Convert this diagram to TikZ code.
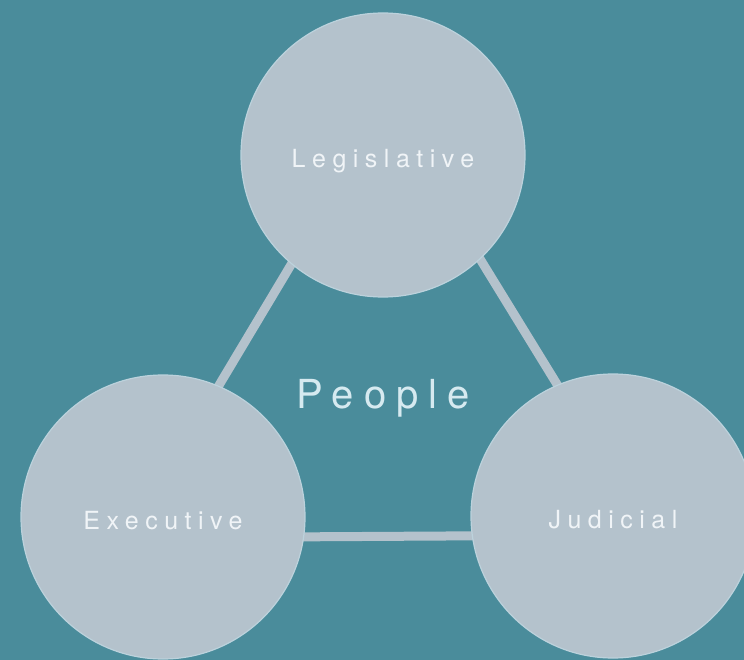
\documentclass[tikz,border=0pt]{standalone}
\usepackage{fontspec}
\setmainfont{TeX Gyre Heros}
\newfontfamily\trackfont[LetterSpace=26]{TeX Gyre Heros}
\newfontfamily\widefont[LetterSpace=25]{TeX Gyre Heros}
\definecolor{bgteal}{HTML}{4A8C9B}
\definecolor{disc}{HTML}{B4C2CC}
\definecolor{discedge}{HTML}{BCD2DC}
\definecolor{labelwhite}{HTML}{F0F4F7}
\definecolor{peoplecol}{HTML}{D6EAF0}
\pgfdeclarelayer{bg}
\pgfdeclarelayer{links}
\pgfsetlayers{bg,links,main}
\begin{document}
\begin{tikzpicture}[x=1pt,y=-1pt,
  branch/.style={circle, fill=disc, draw=discedge, line width=1.2pt,
    minimum size=284pt, inner sep=0pt, text=labelwhite,
    font=\trackfont\fontsize{25}{25}\selectfont,
    text height=25pt, text depth=0pt},
  link/.style={draw=disc, line width=9pt, shorten <=-10pt, shorten >=-10pt},
  center/.style={text=peoplecol, font=\widefont\fontsize{40}{40}\selectfont, inner sep=0pt, anchor=base}]
\begin{pgfonlayer}{bg}
\fill[bgteal] (0,0) rectangle (744,660);
\end{pgfonlayer}
\useasboundingbox (0,0) rectangle (744,660);
\node[branch] (L) at (383,155) {Legislative};
\node[branch] (E) at (163,517) {Executive};
\node[branch] (J) at (613,516) {Judicial};
\node[center] (P) at (383,408) {People};
\begin{pgfonlayer}{links}
\draw[link] (L.230) -- (E.67);
\draw[link] (L.313) -- (J.113);
\draw[link] (E.-8) -- (J.188);
\end{pgfonlayer}
\end{tikzpicture}
\end{document}
